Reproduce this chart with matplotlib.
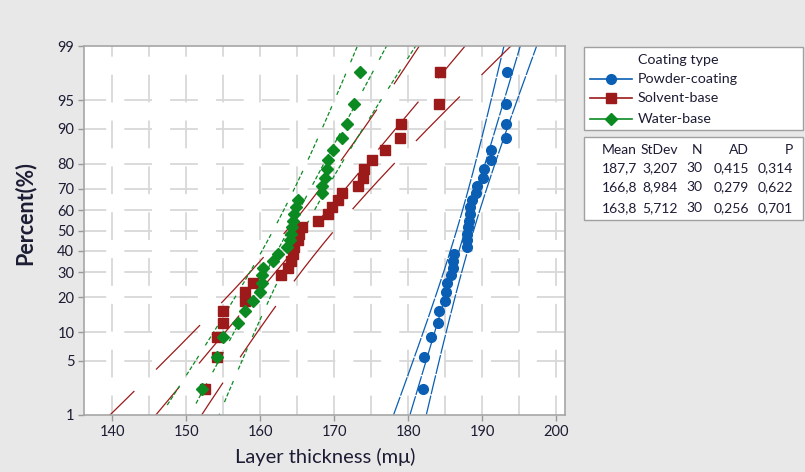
import matplotlib
matplotlib.use("Agg")
import numpy as np
import matplotlib.pyplot as plt
from matplotlib.lines import Line2D
from matplotlib.patches import Rectangle
from statistics import NormalDist

plt.rcParams["font.family"] = ["Lato", "DejaVu Sans"]
plt.rcParams["lines.scale_dashes"] = False

# data (layer thickness per sample, sorted)
groups = ["Powder-coating", "Solvent-base", "Water-base"]
powder = [182.0, 182.2, 183.1, 184.1, 184.2, 185.0, 185.1, 185.2, 185.8, 186.0,
          186.1, 186.2, 187.9, 188.0, 188.0, 188.1, 188.2, 188.3, 188.4, 188.6,
          189.2, 189.3, 190.1, 190.2, 191.2, 191.2, 193.2, 193.2, 193.2, 193.3]
solvent = [152.6, 154.2, 154.2, 155.0, 155.0, 157.9, 158.0, 159.1, 162.8, 163.8,
           164.2, 164.4, 164.6, 165.1, 165.2, 165.7, 167.8, 169.2, 169.7, 170.5,
           171.1, 173.2, 173.9, 174.0, 175.1, 176.9, 178.9, 179.1, 184.2, 184.3]
water = [152.2, 154.2, 155.0, 157.0, 158.0, 159.1, 160.0, 160.3, 160.3, 160.4,
         161.8, 162.4, 163.6, 164.1, 164.2, 164.3, 164.4, 164.6, 164.8, 165.1,
         168.3, 168.4, 168.7, 169.1, 169.2, 169.9, 171.0, 171.8, 172.7, 173.5]

means = [187.7, 166.8, 163.8]
stdevs = [3.207, 8.984, 5.712]
counts = [30, 30, 30]
ad_vals = [0.415, 0.279, 0.256]
p_vals = [0.314, 0.622, 0.701]

pct_ticks = [1, 5, 10, 20, 30, 40, 50, 60, 70, 80, 90, 95, 99]
x_ticks = [140, 150, 160, 170, 180, 190, 200]

colors = ["#0a5fb4", "#9c1a1a", "#0b8a22"]
markers = ["o", "s", "D"]
msizes = [7.0, 7.5, 6.5]
dash_styles = [(0, (14, 1)), (0, (45, 22)), (0, (3, 1.5, 3, 1.5, 3, 1.5, 3, 9))]

nd = NormalDist()


def zval(pct):
    return nd.inv_cdf(pct / 100.0)


W, H = 805, 472


def fx(x):
    return x / W


def fy(y):
    return 1 - y / H


fig = plt.figure(figsize=(W / 100, H / 100), dpi=100, facecolor="#e8e8e8")
ax = fig.add_axes([fx(84), fy(415), (565 - 84) / W, (415 - 46) / H])
ax.set_facecolor("white")

xmin, xmax = 136.2, 201.2
ymin, ymax = zval(1), zval(99)

# Minitab-style broken grid
gcol = "#d8d8d8"
for gx in np.arange(140, 201, 5):
    ax.plot([gx, gx], [ymin, ymax], color=gcol, lw=1.3, ls=(6, (20, 13)), zorder=0)
for pc in pct_ticks[1:-1]:
    ax.plot([xmin, xmax], [zval(pc), zval(pc)], color=gcol, lw=1.3, ls=(4, (20, 13)), zorder=0)

data = [powder, solvent, water]
zz = np.linspace(zval(0.5), zval(99.5), 300)
for vals, m, s, n, c, mk, ms, dsh in zip(data, means, stdevs, counts, colors, markers, msizes, dash_styles):
    vals = np.sort(np.asarray(vals))
    ranks = np.arange(1, len(vals) + 1)
    pos = (ranks - 0.3) / (len(vals) + 0.4)
    zp = np.array([nd.inv_cdf(p) for p in pos])
    fit = m + s * zz
    half = 1.96 * s / np.sqrt(n) * np.sqrt(1 + zz ** 2 / 2)
    for line in (fit - half, fit, fit + half):
        ax.plot(line, zz, color=c, lw=0.9, ls=dsh, zorder=2)
    ax.plot(vals, zp, ls="none", marker=mk, ms=ms, color=c, mec=c, zorder=3)

ax.set_xlim(xmin, xmax)
ax.set_ylim(ymin, ymax)
ax.set_xticks(x_ticks)
ax.set_yticks([zval(p) for p in pct_ticks])
ax.set_yticklabels([str(p) for p in pct_ticks])
ax.tick_params(axis="both", colors="#9a9a9a", length=4, width=1, labelsize=10.5,
               labelcolor="#1c1c34", pad=3)
for sp in ax.spines.values():
    sp.set_color("#a6a6a6")
    sp.set_linewidth(1.2)

fig.text(fx(325), fy(457), "Layer thickness (m\u03bc)", ha="center", va="center",
         fontsize=14.5, color="#1c1c34")
fig.text(fx(25), fy(213), "Percent(%)", ha="center", va="center", rotation=90,
         fontsize=15.5, fontweight="bold", color="#1c1c34")

# legend box
fig.patches.append(Rectangle((fx(584), fy(130)), (803 - 584) / W, (130 - 47) / H,
                             transform=fig.transFigure, fc="white", ec="#a0a0a0", lw=1))
fig.text(fx(638), fy(64), "Coating type", ha="left", va="baseline", fontsize=10.3, color="#1c1c34")
for i, (g, c, mk) in enumerate(zip(groups, colors, markers)):
    yy = [79, 98, 119][i]
    fig.add_artist(Line2D([fx(590), fx(632)], [fy(yy), fy(yy)], color=c, lw=1.2,
                          transform=fig.transFigure))
    fig.add_artist(Line2D([fx(611)], [fy(yy)], marker=mk, ms=msizes[i], color=c, ls="none",
                          transform=fig.transFigure))
    fig.text(fx(638), fy(yy + 4), g, ha="left", va="baseline", fontsize=10.3, color="#1c1c34")

# stats box
fig.patches.append(Rectangle((fx(584), fy(220)), (803 - 584) / W, (220 - 137) / H,
                             transform=fig.transFigure, fc="white", ec="#a0a0a0", lw=1))
col_right = [637, 678, 702, 749, 793]
headers = ["Mean", "StDev", "N", "AD", "P"]
for xr, h in zip(col_right, headers):
    fig.text(fx(xr), fy(154), h, ha="right", va="baseline", fontsize=10, color="#1c1c34")


def comma(v, nd_):
    return f"{v:.{nd_}f}".replace(".", ",")


for i in range(3):
    row = [comma(means[i], 1), comma(stdevs[i], 3), str(counts[i]),
           comma(ad_vals[i], 3), comma(p_vals[i], 3)]
    yb = fy([172, 191, 212][i])
    for xr, t in zip(col_right, row):
        fig.text(fx(xr), yb, t, ha="right", va="baseline", fontsize=10, color="#1c1c34")

fig.savefig("out.png", dpi=100, facecolor=fig.get_facecolor())
